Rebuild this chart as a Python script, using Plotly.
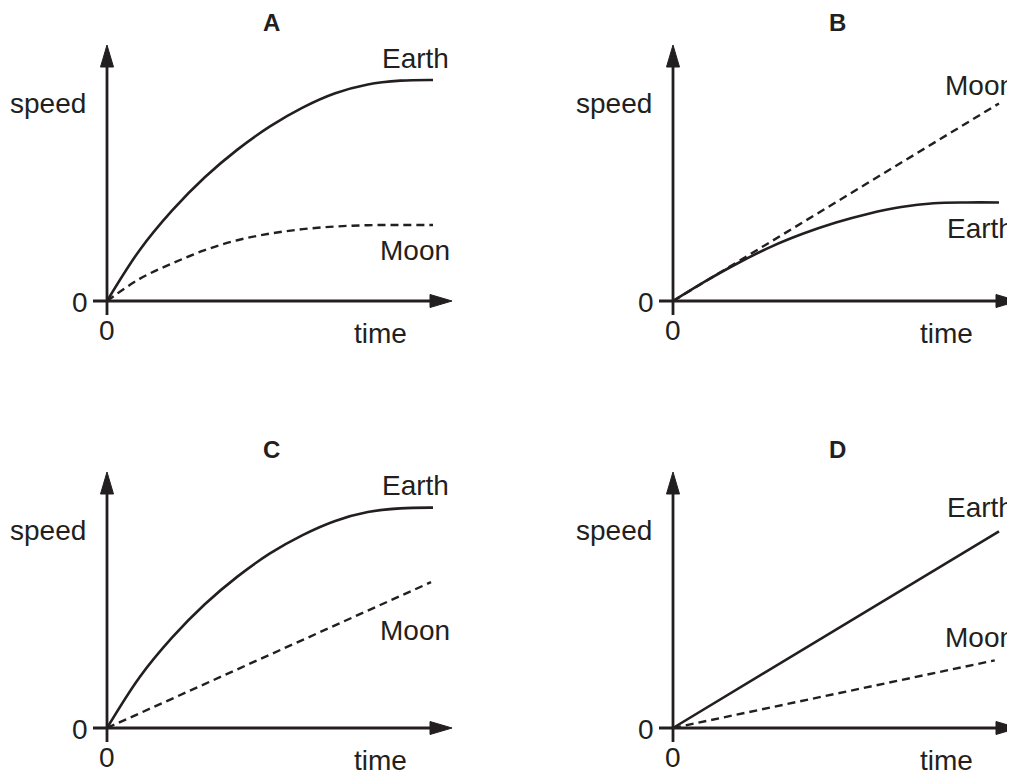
import plotly.graph_objects as go

# the page body has an 8px margin, so the figure is drawn 8px smaller and all
# reference pixel positions are shifted by -8
OFF = 8
W, H = 1015 - OFF, 774 - OFF
INK = "#231f20"
FONT = "Liberation Sans"

# ---- data (time 0-10, speed 0-10) ----
panels = ["A", "B", "C", "D"]

earth_a_t = [0, 1, 2, 3, 4, 5, 6, 7, 8, 9, 10]
earth_a_v = [0, 2.3, 4.1, 5.6, 6.85, 7.9, 8.75, 9.4, 9.8, 9.97, 10]
moon_a_t = [0, 1, 2, 3, 4, 5, 6, 7, 8, 9, 10]
moon_a_v = [0, 1.0, 1.7, 2.3, 2.75, 3.05, 3.25, 3.37, 3.43, 3.44, 3.44]

earth_b_t = [0, 1, 2, 3, 4, 5, 6, 7, 8, 9, 10]
earth_b_v = [0, 0.9, 1.72, 2.45, 3.05, 3.55, 3.95, 4.25, 4.42, 4.46, 4.46]
moon_b_t = [0, 10]
moon_b_v = [0, 8.94]

earth_c_t = [0, 1, 2, 3, 4, 5, 6, 7, 8, 9, 10]
earth_c_v = [0, 2.3, 4.1, 5.6, 6.85, 7.9, 8.73, 9.37, 9.77, 9.94, 9.97]
moon_c_t = [0, 9.94]
moon_c_v = [0, 6.6]

earth_d_t = [0, 10]
earth_d_v = [0, 8.9]
moon_d_t = [0, 9.87]
moon_d_v = [0, 3.06]

earth_t = [earth_a_t, earth_b_t, earth_c_t, earth_d_t]
earth_v = [earth_a_v, earth_b_v, earth_c_v, earth_d_v]
moon_t = [moon_a_t, moon_b_t, moon_c_t, moon_d_t]
moon_v = [moon_a_v, moon_b_v, moon_c_v, moon_d_v]

# ---- layout geometry (reference pixels) ----
SX, SY = 32.6, 22.1          # px per data unit
origins = [(107, 301), (673, 301), (107, 728), (673, 728)]
boxes = [(8, 505, 8, 385), (510, 1015, 8, 385), (8, 505, 389, 774), (510, 1015, 389, 774)]
# label offsets from origin (px, dx right, dy down)
earth_lbl = [(308, -243), (307, -73), (308, -243), (307, -221)]
moon_lbl = [(308, -51), (307, -216), (308, -98), (307, -91)]

fig = go.Figure()
shapes = []
annotations = []
layout = {}

for i, name in enumerate(panels):
    ox, oy = origins[i][0] - OFF, origins[i][1] - OFF
    L, R, T, B = [v - OFF for v in boxes[i]]
    sfx = "" if i == 0 else str(i + 1)
    xa, ya = "x" + sfx, "y" + sfx
    layout["xaxis" + sfx] = dict(domain=[L / W, R / W], range=[(L - ox) / SX, (R - ox) / SX],
                                 visible=False, fixedrange=True, anchor=ya)
    layout["yaxis" + sfx] = dict(domain=[(H - B) / H, (H - T) / H], range=[(oy - B) / SY, (oy - T) / SY],
                                 visible=False, fixedrange=True, anchor=xa)

    fig.add_trace(go.Scatter(x=earth_t[i], y=earth_v[i], mode="lines", xaxis=xa, yaxis=ya,
                             line=dict(color=INK, width=2.6, shape="spline", smoothing=1),
                             showlegend=False, hoverinfo="skip"))
    fig.add_trace(go.Scatter(x=moon_t[i], y=moon_v[i], mode="lines", xaxis=xa, yaxis=ya,
                             line=dict(color=INK, width=2.4, dash="8px,5px", shape="spline", smoothing=1),
                             showlegend=False, hoverinfo="skip"))

    # axes with arrows
    ytop, xtip, stub, head, half = 256, 345, 14, 22, 6.5
    shapes.append(dict(type="line", xref=xa, yref=ya, x0=0, x1=0, y0=-stub / SY, y1=(ytop - head + 2) / SY,
                       line=dict(color=INK, width=2.8)))
    shapes.append(dict(type="line", xref=xa, yref=ya, x0=-stub / SX, x1=(xtip - head + 2) / SX, y0=0, y1=0,
                       line=dict(color=INK, width=2.8)))
    shapes.append(dict(type="path", xref=xa, yref=ya, fillcolor=INK, line=dict(color=INK, width=1),
                       path=f"M {-half / SX} {(ytop - head) / SY} L 0 {ytop / SY} L {half / SX} {(ytop - head) / SY} Z"))
    shapes.append(dict(type="path", xref=xa, yref=ya, fillcolor=INK, line=dict(color=INK, width=1),
                       path=f"M {(xtip - head) / SX} {half / SY} L {xtip / SX} 0 L {(xtip - head) / SX} {-half / SY} Z"))

    def lab(text, dx, dy, size=28, bold=False):
        annotations.append(dict(text=f"<b>{text}</b>" if bold else text, x=0, y=0, xref=xa, yref=ya,
                                xshift=dx, yshift=-dy, showarrow=False, xanchor="center", yanchor="middle",
                                borderpad=0, font=dict(family=FONT, size=size, color=INK)))

    lab(name, 164, -279, size=24, bold=True)
    lab("speed", -59, -198)
    lab("0", -27, 1)
    lab("0", 0, 29)
    lab("time", 273, 32)
    lab("Earth", *earth_lbl[i])
    lab("Moon", *moon_lbl[i])

fig.update_layout(width=W, height=H, margin=dict(l=0, r=0, t=0, b=0),
                  paper_bgcolor="white", plot_bgcolor="white",
                  shapes=shapes, annotations=annotations, **layout)

fig.write_html("out.html")
